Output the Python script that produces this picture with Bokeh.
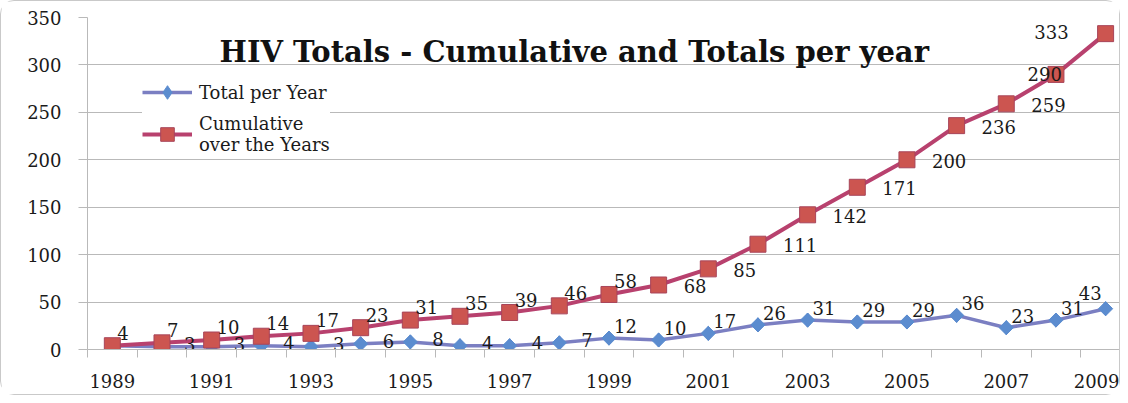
import math
from bokeh.plotting import figure
from bokeh.models import (ColumnDataSource, Range1d, FixedTicker, Legend, LegendItem, Label)
from bokeh.core.properties import value
from bokeh.embed import file_html
from bokeh.resources import INLINE

# ---- data ----
years = list(range(1989, 2010))
total_per_year = [4, 3, 3, 4, 3, 6, 8, 4, 4, 7, 12, 10, 17, 26, 31, 29, 29, 36, 23, 31, 43]
cumulative = [4, 7, 10, 14, 17, 23, 31, 35, 39, 46, 58, 68, 85, 111, 142, 171, 200, 236, 259, 290, 333]
x_tick_labels = [y for y in years if y % 2 == 1]
y_ticks = [0, 50, 100, 150, 200, 250, 300, 350]
title_text = "HIV Totals - Cumulative and Totals per year"
series_names = ["Total per Year", "Cumulative\nover the Years"]

FONT = "DejaVu Serif"
TXT = "#1a1a1a"
BLUE_LINE = "#7b7fc2"
BLUE_FILL = "#5b8ccf"
RED_LINE = "#b8416e"
RED_FILL = "#cc5550"
GRID = "#b9b9b9"
FS = "18px"

p = figure(width=1120, height=395, output_backend="svg", toolbar_location=None,
           x_range=Range1d(1988.5, 2009.32), y_range=Range1d(0, 350),
           min_border_left=86, min_border_right=0, min_border_top=16, min_border_bottom=47)
p.outline_line_color = None
p.background_fill_color = "white"
p.border_fill_color = "white"
p.styles = {"border": "1px solid #c9c9c9", "border-radius": "14px", "box-sizing": "border-box"}

# axes
p.xaxis.ticker = FixedTicker(ticks=x_tick_labels,
                             minor_ticks=[y - 0.5 for y in years])
p.xaxis.major_tick_out = 0
p.xaxis.major_tick_in = 0
p.xaxis.minor_tick_out = 8
p.xaxis.minor_tick_in = 0
p.xaxis.minor_tick_line_color = GRID
p.xaxis.axis_line_color = GRID
p.xaxis.major_label_standoff = 16
p.yaxis.ticker = FixedTicker(ticks=y_ticks)
p.yaxis.major_tick_out = 9
p.yaxis.major_tick_in = 0
p.yaxis.minor_tick_line_color = None
p.yaxis.major_tick_line_color = GRID
p.yaxis.axis_line_color = GRID
p.yaxis.major_label_standoff = 17
for ax in (p.xaxis, p.yaxis):
    ax.major_label_text_font = FONT
    ax.major_label_text_font_size = FS
    ax.major_label_text_color = TXT
p.xgrid.visible = False
p.ygrid.grid_line_color = GRID
p.ygrid.grid_line_width = 1

src = ColumnDataSource(dict(x=years, tot=total_per_year, cum=cumulative,
                            tot_lbl=[str(v) for v in total_per_year],
                            cum_lbl=[str(v) for v in cumulative]))

bl = p.line("x", "tot", source=src, line_color=BLUE_LINE, line_width=3.5)
# narrow diamond (hidden under the rotated squares) - gives the legend swatch
bm_leg = p.scatter("x", "tot", source=src, marker="diamond", size=14,
                   fill_color=BLUE_FILL, line_color=BLUE_FILL)
bm = p.scatter("x", "tot", source=src, marker="square", angle=math.pi / 4, size=10,
               fill_color=BLUE_FILL, line_color=BLUE_FILL)
rl = p.line("x", "cum", source=src, line_color=RED_LINE, line_width=4)
rm = p.scatter("x", "cum", source=src, marker="square", size=16,
               fill_color=RED_FILL, line_color="#a8455a", line_width=1)


def add_labels(col, lbl, start, stop, dx, dy, align):
    sub = ColumnDataSource(dict(x=years[start:stop], y=src.data[col][start:stop],
                                t=src.data[lbl][start:stop]))
    p.text("x", "y", text="t", source=sub, x_offset=dx, y_offset=dy,
           text_align=align, text_baseline="middle", text_color=TXT,
           text_font=value(FONT), text_font_size=FS)


# per-year labels
add_labels("tot", "tot_lbl", 1, 10, 22, -3, "left")
add_labels("tot", "tot_lbl", 10, 20, 5, -12, "left")
add_labels("tot", "tot_lbl", 20, 21, -4, -16, "right")
add_labels("cum", "cum_lbl", 0, 11, 5, -13, "left")
add_labels("cum", "cum_lbl", 11, 19, 25, 1, "left")
add_labels("cum", "cum_lbl", 19, 20, 6, 0, "right")
add_labels("cum", "cum_lbl", 20, 21, -37, -2, "right")

# title inside the plot area
p.add_layout(Label(x=1998.3, y=314, text=title_text, text_align="center",
                   text_baseline="middle", text_font=FONT, text_font_size="29px",
                   text_font_style="bold", text_color="#111111"))

legend = Legend(items=[LegendItem(label=series_names[0], renderers=[bl, bm_leg]),
                       LegendItem(label=series_names[1], renderers=[rl, rm])],
                location=(55, 194), orientation="vertical",
                glyph_width=50, glyph_height=34, label_standoff=7,
                label_text_font=FONT, label_text_font_size=FS, label_text_color=TXT,
                background_fill_color="white", background_fill_alpha=1,
                border_line_color=None, padding=10, spacing=4, margin=0)
p.add_layout(legend)

open("out.html", "w").write(file_html(p, INLINE))
